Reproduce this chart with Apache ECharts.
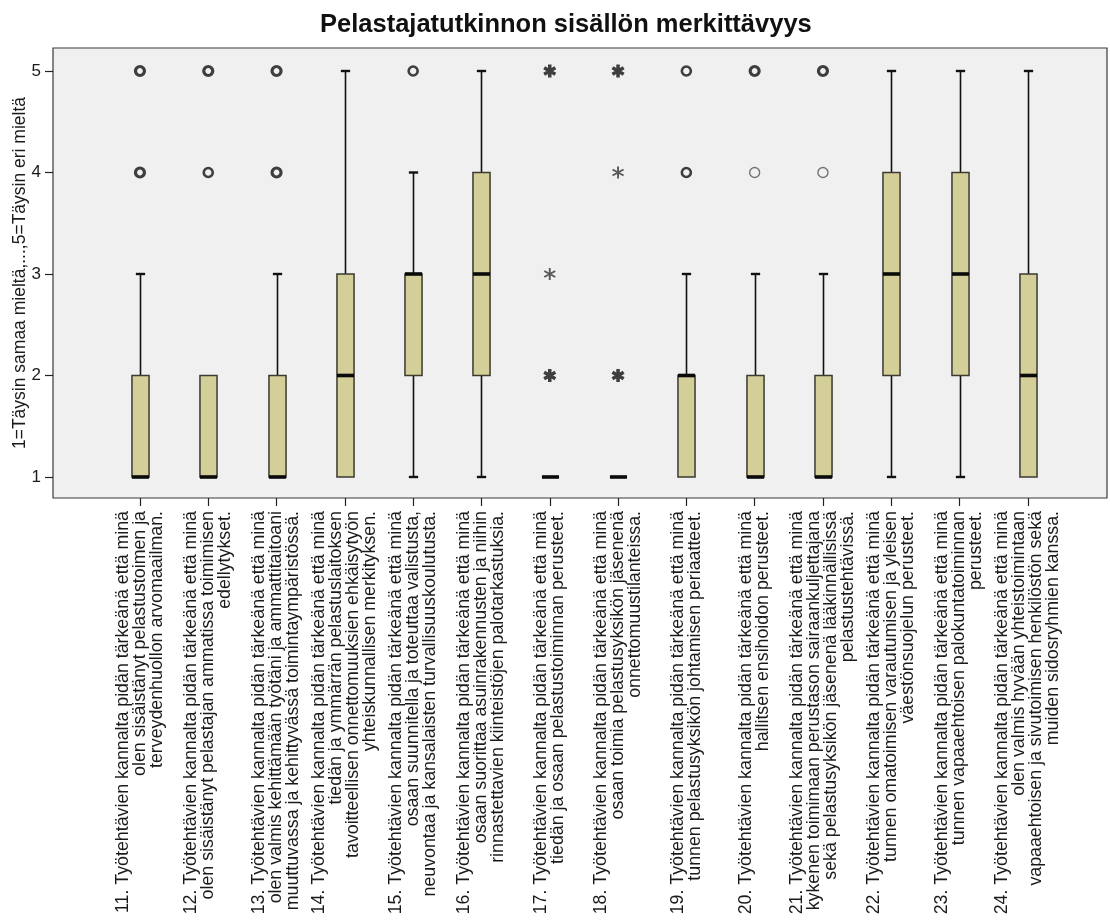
<!DOCTYPE html>
<html>
<head>
<meta charset="utf-8">
<script src="https://cdn.jsdelivr.net/npm/echarts@6/dist/echarts.min.js"></script>
<style>
  html, body { margin: 0; padding: 0; background: #ffffff; }
  #chart { width: 1110px; height: 921px; }
</style>
</head>
<body>
<div id="chart"></div>
<script>
// ---------------- data ----------------
const title = 'Pelastajatutkinnon sisällön merkittävyys';
const yName = '1=Täysin samaa mieltä,...,5=Täysin eri mieltä';
const yTicks = [1, 2, 3, 4, 5];

const categories = [
  '11. Työtehtävien kannalta pidän tärkeänä että minä\nolen sisäistänyt pelastustoimen ja\nterveydenhuollon arvomaailman.',
  '12. Työtehtävien kannalta pidän tärkeänä että minä\nolen sisäistänyt pelastajan ammatissa toimimisen\nedellytykset.',
  '13. Työtehtävien kannalta pidän tärkeänä että minä\nolen valmis kehittämään työtäni ja ammattitaitoani\nmuuttuvassa ja kehittyvässä toimintaympäristössä.',
  '14. Työtehtävien kannalta pidän tärkeänä että minä\ntiedän ja ymmärrän pelastuslaitoksen\ntavoitteellisen onnettomuuksien ehkäisytyön\nyhteiskunnallisen merkityksen.',
  '15. Työtehtävien kannalta pidän tärkeänä että minä\nosaan suunnitella ja toteuttaa valistusta,\nneuvontaa ja kansalaisten turvallisuuskoulutusta.',
  '16. Työtehtävien kannalta pidän tärkeänä että minä\nosaan suorittaa asuinrakennusten ja niihin\nrinnastettavien kiinteistöjen palotarkastuksia.',
  '17. Työtehtävien kannalta pidän tärkeänä että minä\ntiedän ja osaan pelastustoiminnan perusteet.',
  '18. Työtehtävien kannalta pidän tärkeänä että minä\nosaan toimia pelastusyksikön jäsenenä\nonnettomuustilanteissa.',
  '19. Työtehtävien kannalta pidän tärkeänä että minä\ntunnen pelastusyksikön johtamisen periaatteet.',
  '20. Työtehtävien kannalta pidän tärkeänä että minä\nhallitsen ensihoidon perusteet.',
  '21. Työtehtävien kannalta pidän tärkeänä että minä\nkykenen toimimaan perustason sairaankuljettajana\nsekä pelastusyksikön jäsenenä lääkinnällisissä\npelastustehtävissä.',
  '22. Työtehtävien kannalta pidän tärkeänä että minä\ntunnen omatoimisen varautumisen ja yleisen\nväestönsuojelun perusteet.',
  '23. Työtehtävien kannalta pidän tärkeänä että minä\ntunnen vapaaehtoisen palokuntatoiminnan\nperusteet.',
  '24. Työtehtävien kannalta pidän tärkeänä että minä\nolen valmis hyvään yhteistoimintaan\nvapaaehtoisen ja sivutoimisen henkilöstön sekä\nmuiden sidosryhmien kanssa.'
];

const whiskerLow  = [1, 1, 1, 1, 1, 1, 1, 1, 1, 1, 1, 1, 1, 1];
const quartile1   = [1, 1, 1, 1, 2, 2, 1, 1, 1, 1, 1, 2, 2, 1];
const medians     = [1, 1, 1, 2, 3, 3, 1, 1, 2, 1, 1, 3, 3, 2];
const quartile3   = [2, 2, 2, 3, 3, 4, 1, 1, 2, 2, 2, 4, 4, 3];
const whiskerHigh = [3, 2, 3, 5, 4, 5, 1, 1, 3, 3, 3, 5, 5, 5];

// outliers (o): [category index, value, approx. number of overlapping cases]
const outliers = [
  [0, 4, 3], [0, 5, 3],
  [1, 4, 2], [1, 5, 3],
  [2, 4, 3], [2, 5, 3],
  [4, 5, 2],
  [8, 4, 2], [8, 5, 2],
  [9, 4, 1], [9, 5, 3],
  [10, 4, 1], [10, 5, 3]
];
// extremes (*): [category index, value, approx. number of overlapping cases]
const extremes = [
  [6, 2, 3], [6, 3, 1], [6, 5, 3],
  [7, 2, 3], [7, 4, 1], [7, 5, 3]
];

// ---------------- chart ----------------
const FONT = '"Liberation Sans", Arial, sans-serif';
const Y_MIN = 0.793, Y_MAX = 5.2266;

function starPath(w) {
  const L = 5;
  const base = [[-w, -L], [w, -L], [w, L], [-w, L]];
  let d = '';
  [0, 60, 120].forEach(function (deg) {
    const a = deg * Math.PI / 180, c = Math.cos(a), s = Math.sin(a);
    base.forEach(function (p, i) {
      const x = p[0] * c - p[1] * s, y = p[0] * s + p[1] * c;
      d += (i === 0 ? 'M' : 'L') + x.toFixed(3) + ',' + y.toFixed(3) + ' ';
    });
    d += 'Z ';
  });
  return 'path://' + d;
}
const STAR_BOLD = starPath(1.35);
const STAR_THIN = starPath(0.75);

const boxData = categories.map(function (c, i) {
  return [i, whiskerLow[i], quartile1[i], medians[i], quartile3[i], whiskerHigh[i]];
});

function renderBox(params, api) {
  const x = api.value(0);
  const lo = api.coord([x, api.value(1)]);
  const q1 = api.coord([x, api.value(2)]);
  const md = api.coord([x, api.value(3)]);
  const q3 = api.coord([x, api.value(4)]);
  const hi = api.coord([x, api.value(5)]);
  const band = api.size([1, 0])[0];
  const hw = band * 0.125;
  const cw = band * 0.068;
  const cx = Math.round(q1[0]) + 0.5;
  const kids = [];
  const wStyle = { stroke: '#111', lineWidth: 1.6 };
  const cStyle = { stroke: '#111', lineWidth: 2.4 };
  if (api.value(5) > api.value(4)) {
    kids.push({ type: 'line', shape: { x1: cx, y1: q3[1], x2: cx, y2: hi[1] }, style: wStyle });
    kids.push({ type: 'line', shape: { x1: cx - cw, y1: hi[1], x2: cx + cw, y2: hi[1] }, style: cStyle });
  }
  if (api.value(1) < api.value(2)) {
    kids.push({ type: 'line', shape: { x1: cx, y1: q1[1], x2: cx, y2: lo[1] }, style: wStyle });
    kids.push({ type: 'line', shape: { x1: cx - cw, y1: lo[1], x2: cx + cw, y2: lo[1] }, style: cStyle });
  }
  kids.push({
    type: 'rect',
    shape: { x: cx - hw, y: q3[1], width: hw * 2, height: q1[1] - q3[1] },
    style: { fill: '#d4cf99', stroke: '#3a3a30', lineWidth: 1.5 }
  });
  kids.push({
    type: 'line',
    shape: { x1: cx - hw, y1: md[1], x2: cx + hw, y2: md[1] },
    style: { stroke: '#0a0a0a', lineWidth: 3.6 }
  });
  return { type: 'group', children: kids };
}

const outlierData = outliers.map(function (o) {
  const bold = o[2] >= 2;
  return {
    value: [o[0], o[1]],
    symbolSize: bold ? 9 : 10,
    itemStyle: {
      color: 'rgba(0,0,0,0)',
      borderColor: bold ? '#111' : '#555',
      borderWidth: o[2] >= 3 ? 3.2 : (bold ? 2.6 : 1.4)
    }
  };
});
const extremeData = extremes.map(function (o) {
  const bold = o[2] >= 2;
  return {
    value: [o[0], o[1]],
    symbol: bold ? STAR_BOLD : STAR_THIN,
    symbolSize: bold ? 13 : 12,
    itemStyle: { color: bold ? '#111' : '#333' }
  };
});

const chart = echarts.init(document.getElementById('chart'), null, { renderer: 'canvas' });
chart.setOption({
  animation: false,
  backgroundColor: '#ffffff',
  textStyle: { fontFamily: FONT },
  title: {
    text: title,
    left: 315,
    top: 7,
    textStyle: { fontFamily: FONT, fontSize: 25.5, fontWeight: 'bold', color: '#111' }
  },
  grid: [
    { left: 53, right: 3, top: 48, bottom: 423, outerBoundsMode: 'none', containLabel: false,
      show: true, backgroundColor: '#f0f0f0', borderColor: '#3a3a3a', borderWidth: 1.2 },
    { left: 105.8, right: 48, top: 48, bottom: 423, outerBoundsMode: 'none', containLabel: false, show: false }
  ],
  xAxis: [
    { gridIndex: 0, type: 'value', min: 0, max: 1, show: false },
    {
      gridIndex: 1, type: 'category', data: categories,
      axisLine: { show: false },
      axisTick: { show: true, alignWithLabel: true, length: 8, lineStyle: { color: '#222', width: 1.2 } },
      axisLabel: {
        interval: 0, rotate: 90, margin: 13,
        fontFamily: FONT, fontSize: 17.8, lineHeight: 17, color: '#1a1a1a'
      },
      splitLine: { show: false }
    }
  ],
  yAxis: [
    {
      gridIndex: 0, type: 'value', min: Y_MIN, max: Y_MAX,
      name: yName, nameLocation: 'middle', nameGap: 24, nameMoveOverlap: false,
      nameTextStyle: { fontFamily: FONT, fontSize: 17.5, color: '#1a1a1a' },
      axisLine: { show: false },
      axisTick: { show: true, length: 8, customValues: yTicks, lineStyle: { color: '#222', width: 1.2 } },
      axisLabel: { customValues: yTicks, fontFamily: FONT, fontSize: 17, color: '#1a1a1a', margin: 12 },
      splitLine: { show: false }
    },
    { gridIndex: 1, type: 'value', min: Y_MIN, max: Y_MAX, show: false, splitLine: { show: false } }
  ],
  series: [
    {
      type: 'custom', xAxisIndex: 1, yAxisIndex: 1,
      renderItem: renderBox, data: boxData, z: 2
    },
    {
      type: 'scatter', xAxisIndex: 1, yAxisIndex: 1, symbol: 'circle',
      data: outlierData, z: 3
    },
    {
      type: 'scatter', xAxisIndex: 1, yAxisIndex: 1,
      data: extremeData, z: 3
    }
  ]
});
</script>
</body>
</html>
